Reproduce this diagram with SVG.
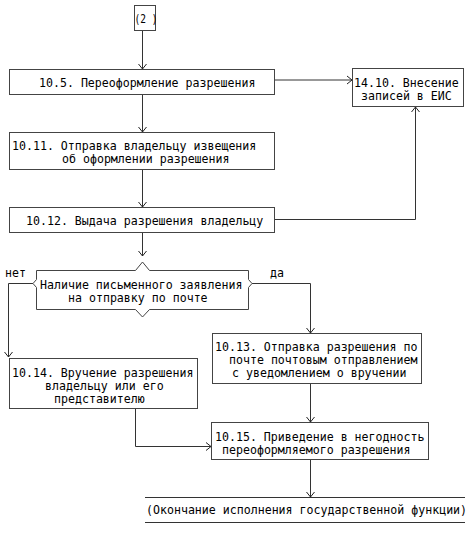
<svg xmlns="http://www.w3.org/2000/svg" width="473" height="535" viewBox="0 0 473 535">
<defs>
<style>
.box{fill:#fff;stroke:#444;stroke-width:1}
.ln{fill:none;stroke:#333;stroke-width:1}
text{font-family:"DejaVu Sans Mono","Liberation Mono",monospace;font-size:11.6px;fill:#000}
</style>
<marker id="a" markerWidth="10" markerHeight="10" refX="8" refY="5" orient="auto" markerUnits="userSpaceOnUse">
<path d="M3,1 L8,5 L3,9" fill="none" stroke="#222" stroke-width="1"/>
</marker>
</defs>
<g id="connectors">
<path class="ln" d="M142.5,31 V69" marker-end="url(#a)"/>
<path class="ln" d="M274,80 H352" marker-end="url(#a)"/>
<path class="ln" d="M142.5,95 V132" marker-end="url(#a)"/>
<path class="ln" d="M142.5,170 V207" marker-end="url(#a)"/>
<path class="ln" d="M274,219.5 H415.5 V107" marker-end="url(#a)"/>
<path class="ln" d="M142.5,233 V256" marker-end="url(#a)"/>
<path class="ln" d="M33,283.5 H8.5 V357" marker-end="url(#a)"/>
<path class="ln" d="M252,283.5 H310.5 V333" marker-end="url(#a)"/>
<path class="ln" d="M135.5,409 V446.5 H211" marker-end="url(#a)"/>
<path class="ln" d="M310.5,384 V422" marker-end="url(#a)"/>
<path class="ln" d="M310.5,460 V497" marker-end="url(#a)"/>
</g>
<g id="start">
<rect class="box" x="134.5" y="5.5" width="21" height="25"/>
<text x="134.5" y="22.5" textLength="23" lengthAdjust="spacingAndGlyphs">(2 )</text>
</g>
<g id="n10_5">
<rect class="box" x="9.5" y="69.5" width="265" height="25"/>
<text x="39" y="86.5">10.5. Переоформление разрешения</text>
</g>
<g id="n14_10">
<rect class="box" x="352.5" y="68.5" width="111" height="38"/>
<text x="354" y="87">14.10. Внесение</text>
<text x="361" y="100">записей в ЕИС</text>
</g>
<g id="n10_11">
<rect class="box" x="9.5" y="132.5" width="265" height="37"/>
<text x="12" y="150">10.11. Отправка владельцу извещения</text>
<text x="62" y="163">об оформлении разрешения</text>
</g>
<g id="n10_12">
<rect class="box" x="9.5" y="207.5" width="265" height="25"/>
<text x="26" y="225">10.12. Выдача разрешения владельцу</text>
</g>
<g id="decision">
<path class="box" d="M36.5,270.5 H135.5 L142.5,262 L149.5,270.5 H248.5 V279.5 L252,283.5 L248.5,287.5 V309.5 H149.5 L142.5,317 L135.5,309.5 H36.5 V287.5 L33,283.5 L36.5,279.5 Z"/>
<text x="40" y="289">Наличие письменного заявления</text>
<text x="68" y="302">на отправку по почте</text>
<text x="5" y="277">нет</text>
<text x="270" y="277">да</text>
</g>
<g id="n10_13">
<rect class="box" x="212.5" y="333.5" width="209" height="50"/>
<text x="215" y="351">10.13. Отправка разрешения по</text>
<text x="229" y="364">почте почтовым отправлением</text>
<text x="232" y="377">с уведомлением о вручении</text>
</g>
<g id="n10_14">
<rect class="box" x="9.5" y="358.5" width="188" height="50"/>
<text x="12" y="377">10.14. Вручение разрешения</text>
<text x="45" y="390">владельцу или его</text>
<text x="54" y="403">представителю</text>
</g>
<g id="n10_15">
<rect class="box" x="211.5" y="422.5" width="217" height="37"/>
<text x="215" y="441">10.15. Приведение в негодность</text>
<text x="222" y="454">переоформляемого разрешения</text>
</g>
<g id="end">
<path class="ln" d="M145,497.5 H465 M145,522.5 H465"/>
<text x="146" y="514">(Окончание исполнения государственной функции)</text>
</g>
</svg>
